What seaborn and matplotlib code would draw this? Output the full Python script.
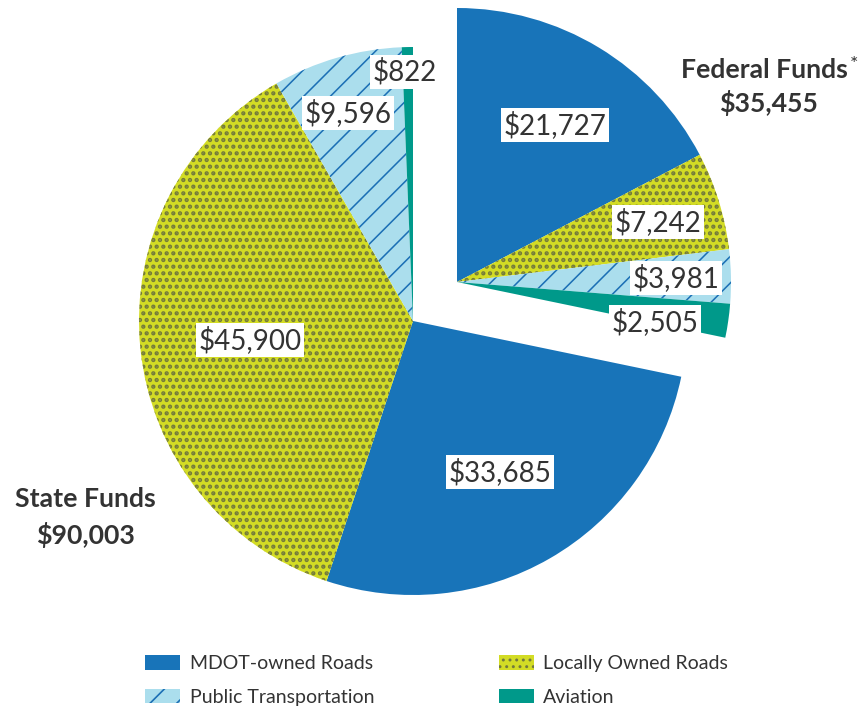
import matplotlib
matplotlib.use("Agg")
import matplotlib.pyplot as plt
import seaborn as sns
from matplotlib.patches import Patch

sns.set_theme(style="white")
plt.rcParams['font.family'] = ['Lato', 'DejaVu Sans']
plt.rcParams['hatch.linewidth'] = 1.5

# ---- data ----
categories = ["MDOT-owned Roads", "Locally Owned Roads", "Public Transportation", "Aviation"]
federal_values = [21727, 7242, 3981, 2505]
state_values = [33685, 45900, 9596, 822]
federal_total = 35455
state_total = 90003
federal_labels = ["$21,727", "$7,242", "$3,981", "$2,505"]
state_labels = ["$33,685", "$45,900", "$9,596", "$822"]

# ---- styles ----
face = {"MDOT-owned Roads": "#1874b9", "Locally Owned Roads": "#d3dc25",
        "Public Transportation": "#abdeed", "Aviation": "#00998a"}
hatchcol = {"MDOT-owned Roads": "#1874b9", "Locally Owned Roads": "#737a3c",
            "Public Transportation": "#1c6fb5", "Aviation": "#00998a"}
hatch = {"MDOT-owned Roads": None, "Locally Owned Roads": "..",
         "Public Transportation": "/", "Aviation": None}
hatch_lw = {"Locally Owned Roads": 2.6, "Public Transportation": 1.4}
TXT = "#333333"

W, H, DPI = 860, 709, 80
fig = plt.figure(figsize=(W / DPI, H / DPI), dpi=DPI)
ax = fig.add_axes([0, 0, 1, 1])

def Y(py):
    return H - py

R = 274
state_center = (413, Y(321))
fed_center = (457, Y(282))

def style_patch(p, c):
    p.set_facecolor(face[c])
    p.set_edgecolor(hatchcol[c])
    p.set_linewidth(0)
    if hatch[c]:
        p.set_hatch(hatch[c])
        if hasattr(p, "set_hatch_linewidth"):
            p.set_hatch_linewidth(hatch_lw[c])

def style(wedges, cats):
    for w, c in zip(wedges, cats):
        if c is None:
            w.set_visible(False)
        else:
            style_patch(w, c)

# state pie (federal share as invisible placeholder)
sw, _ = ax.pie([federal_total] + state_values, startangle=90, counterclock=False,
               radius=R, center=state_center)
style(sw, [None] + categories)
# federal pie (state share invisible)
fw, _ = ax.pie(federal_values + [state_total], startangle=90, counterclock=False,
               radius=R, center=fed_center)
style(fw, categories + [None])

ax.set_xlim(0, W)
ax.set_ylim(0, H)
ax.set_aspect('equal')
ax.axis('off')

box = dict(facecolor='white', edgecolor='none', boxstyle='square,pad=0.1')
fed_pos = [(555, 125), (658, 222), (676, 278), (655, 322)]
state_pos = [(500, 472), (250, 340), (348, 113), (405, 72)]
for lab, (px, py) in zip(federal_labels, fed_pos):
    ax.text(px, Y(py), lab, ha='center', va='center', fontsize=25, color=TXT, bbox=box)
for lab, (px, py) in zip(state_labels, state_pos):
    ax.text(px, Y(py), lab, ha='center', va='center', fontsize=25, color=TXT, bbox=box)

ax.text(764, Y(70), "Federal Funds", ha='center', va='center', fontsize=24,
        fontweight='bold', color=TXT)
ax.text(850, Y(65), "*", ha='left', va='center', fontsize=18, color=TXT)
ax.text(768, Y(103), f"${federal_total:,}", ha='center', va='center', fontsize=24,
        fontweight='bold', color=TXT)
ax.text(85, Y(499), "State Funds", ha='center', va='center', fontsize=24,
        fontweight='bold', color=TXT)
ax.text(85, Y(535), f"${state_total:,}", ha='center', va='center', fontsize=24,
        fontweight='bold', color=TXT)

order = ["MDOT-owned Roads", "Public Transportation", "Locally Owned Roads", "Aviation"]
handles = []
for c in order:
    p = Patch()
    style_patch(p, c)
    handles.append(p)
leg = ax.legend(handles, order, ncol=2, loc='upper left',
                bbox_to_anchor=(145 / W, 1 - 655 / H), frameon=False,
                fontsize=17.5, handlelength=1.8, handleheight=0.78,
                handletextpad=0.5, columnspacing=6.4, labelspacing=0.85,
                borderpad=0, borderaxespad=0)
for t in leg.get_texts():
    t.set_color(TXT)

fig.savefig("out.png", dpi=DPI)
